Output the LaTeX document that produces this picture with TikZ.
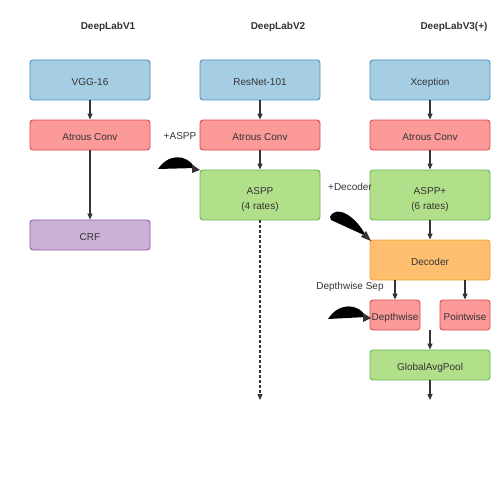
\documentclass[tikz,border=0pt]{standalone}
\usepackage{fontspec}
\setmainfont{Liberation Sans}
\usetikzlibrary{arrows.meta}
\definecolor{txt}{HTML}{333333}
\definecolor{bfill}{HTML}{A6CEE3}\definecolor{bdraw}{HTML}{4A90C2}
\definecolor{rfill}{HTML}{FB9A99}\definecolor{rdraw}{HTML}{E04848}
\definecolor{gfill}{HTML}{B2DF8A}\definecolor{gdraw}{HTML}{62B84E}
\definecolor{pfill}{HTML}{CAB2D6}\definecolor{pdraw}{HTML}{8E5AA8}
\definecolor{ofill}{HTML}{FDBF6F}\definecolor{odraw}{HTML}{F5A030}
\begin{document}
\begin{tikzpicture}[x=1pt,y=-1pt,
  font=\fontsize{10}{12}\selectfont, text=txt,
  box/.style={draw, rounded corners=3pt, line width=0.9pt, inner sep=0pt, align=center, text height=11pt, text depth=0pt},
  twoline/.style={text height=30pt, text depth=1pt},
  blue/.style={box, fill=bfill, draw=bdraw},
  red/.style={box, fill=rfill, draw=rdraw},
  green/.style={box, fill=gfill, draw=gdraw},
  purple/.style={box, fill=pfill, draw=pdraw},
  orange/.style={box, fill=ofill, draw=odraw},
  title/.style={font=\fontsize{10}{12}\selectfont\bfseries},
  conn/.style={draw=txt, line width=1.2pt, -{Triangle[length=6pt,width=5pt]}},
  blob/.style={fill=black, draw=none},
]
\useasboundingbox (0,0) rectangle (500,500);
% titles
\node[title] (t1) at (108,26.5) {DeepLabV1};
\node[title] (t2) at (278,26.5) {DeepLabV2};
\node[title] (t3) at (454,26.5) {DeepLabV3(+)};
% V1
\node[blue, minimum width=120pt, minimum height=40pt] (vgg) at (90,80) {VGG-16};
\node[red, minimum width=120pt, minimum height=30pt] (a1) at (90,135) {Atrous Conv};
\node[purple, minimum width=120pt, minimum height=30pt] (crf) at (90,235) {CRF};
% V2
\node[blue, minimum width=120pt, minimum height=40pt] (res) at (260,80) {ResNet-101};
\node[red, minimum width=120pt, minimum height=30pt] (a2) at (260,135) {Atrous Conv};
\node[green, twoline, minimum width=120pt, minimum height=50pt] (aspp) at (260,195) {ASPP\\[3pt](4 rates)};
\coordinate (end2) at (260,400);
% V3
\node[blue, minimum width=120pt, minimum height=40pt] (xcp) at (430,80) {Xception};
\node[red, minimum width=120pt, minimum height=30pt] (a3) at (430,135) {Atrous Conv};
\node[green, twoline, minimum width=120pt, minimum height=50pt] (asppp) at (430,195) {ASPP+\\[3pt](6 rates)};
\node[orange, minimum width=120pt, minimum height=40pt] (dec) at (430,260) {Decoder};
\node[red, minimum width=50pt, minimum height=30pt] (dw) at (395,315) {Depthwise};
\node[red, minimum width=50pt, minimum height=30pt] (pw) at (465,315) {Pointwise};
\node[green, minimum width=120pt, minimum height=30pt] (gap) at (430,365) {GlobalAvgPool};
\coordinate (mid3) at (430,330);
\coordinate (end3) at (430,400);
% labels
\node (l1) at (180,136.5) {+ASPP};
\node (l2) at (350,186.5) {+Decoder};
\node (l3) at (350,286.5) {Depthwise Sep};
% connectors
\draw[conn] (vgg.south) -- (a1.north);
\draw[conn] (a1.south) -- (crf.north);
\draw[conn] (res.south) -- (a2.north);
\draw[conn] (a2.south) -- (aspp.north);
\draw[conn, dash pattern=on 3pt off 2pt] (aspp.south) -- (end2);
\draw[conn] (xcp.south) -- (a3.north);
\draw[conn] (a3.south) -- (asppp.north);
\draw[conn] (asppp.south) -- (dec.north);
\draw[conn] (dec.south -| dw.north) -- (dw.north);
\draw[conn] (dec.south -| pw.north) -- (pw.north);
\draw[conn] (mid3) -- (gap.north);
\draw[conn] (gap.south) -- (end3);
% curved blob arrows
\coordinate (c1s) at (158,169); \coordinate (c1e) at (200,170);
\fill[blob] (c1s) .. controls (168,154) and (186,153) .. (195,168) -- cycle;
\fill[txt] (192,164.5) -- (c1e) -- (192,173) -- cycle;
\coordinate (c2s) at (330,217); \coordinate (c2e) at (371,241);
\fill[blob] (c2s) .. controls (336,204) and (356,216) .. (366,236) -- (331,220) -- cycle;
\fill[txt] (361,237) -- (c2e) -- (366,231) -- cycle;
\coordinate (c3s) at (328,319); \coordinate (c3e) at (371,318);
\fill[blob] (c3s) .. controls (338,303) and (358,302) .. (366,317) -- cycle;
\fill[txt] (363,313) -- (c3e) -- (363,322) -- cycle;
\end{tikzpicture}
\end{document}
